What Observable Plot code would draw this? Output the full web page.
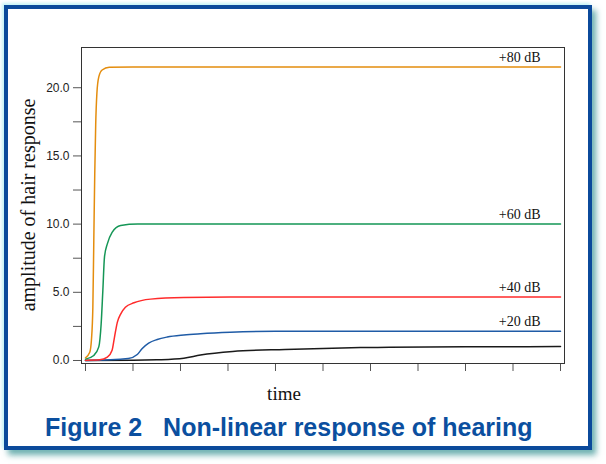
<!DOCTYPE html>
<html>
<head>
<meta charset="utf-8">
<script src="https://cdn.jsdelivr.net/npm/d3@7"></script>
<script src="https://cdn.jsdelivr.net/npm/@observablehq/plot@0.6"></script>
<style>
  html, body { margin: 0; padding: 0; background: #fff; }
  body { width: 606px; height: 464px; position: relative; overflow: hidden; }
  #frame {
    position: absolute; left: 4px; top: 5px; width: 588px; height: 445px;
    box-sizing: border-box; border: 4px solid #0b4a9b; background: #fff;
    box-shadow: -2px -2px 3px #c4f3f6, 4px 5px 6px rgba(60,150,150,0.75);
  }
  #chart { position: absolute; left: 0; top: 0; }
  .serif { font-family: "Liberation Serif", "Times New Roman", serif; color: #111; position: absolute; white-space: nowrap; line-height: 1; }
  #ylab { font-size: 20px; left: 28px; top: 205px; transform: translate(-50%, -50%) rotate(-90deg); }
  #xlab { font-size: 19px; left: 284px; top: 384px; transform: translateX(-50%); }
  #title {
    position: absolute; left: 45px; top: 415px; white-space: pre; line-height: 1;
    font-family: "Liberation Sans", Arial, Helvetica, sans-serif; font-weight: bold;
    font-size: 25px; color: #0b4f9f;
  }
</style>
</head>
<body>
<div id="frame"></div>
<div id="chart"></div>
<div id="ylab" class="serif">amplitude of hair response</div>
<div id="xlab" class="serif">time</div>
<div id="title">Figure 2   Non-linear response of hearing</div>
<script>
// Series (time in tick units 0..10, amplitude)
const t80 = [0, 0.09, 0.125, 0.155, 0.175, 0.195, 0.215, 0.24, 0.28, 0.35, 0.5, 1.0, 10];
const v80 = [0.2, 0.6, 1.5, 3.9, 8.8, 13.7, 17.3, 19.6, 20.8, 21.3, 21.5, 21.52, 21.52];

const t60 = [0, 0.175, 0.28, 0.33, 0.365, 0.4, 0.46, 0.56, 0.74, 1.1, 10];
const v60 = [0.1, 0.37, 1.0, 2.7, 5.1, 7.6, 8.55, 9.4, 9.9, 10.0, 10.0];

const t40 = [0, 0.3, 0.46, 0.56, 0.61, 0.67, 0.74, 0.84, 1.02, 1.37, 2.07, 3.05, 10];
const v40 = [0.02, 0.05, 0.24, 0.75, 1.7, 2.8, 3.4, 3.9, 4.23, 4.5, 4.62, 4.65, 4.65];

const t20 = [0, 0.9, 1.09, 1.19, 1.33, 1.51, 1.72, 2.07, 2.42, 3.05, 4.0, 5.0, 10];
const v20 = [0, 0.15, 0.44, 0.86, 1.27, 1.54, 1.72, 1.87, 1.96, 2.07, 2.14, 2.15, 2.15];

const t0 = [0, 1.0, 1.5, 2.07, 2.42, 3.1, 4.2, 5.6, 6.4, 8.0, 9.3, 10];
const v0 = [0, 0.01, 0.05, 0.17, 0.4, 0.66, 0.81, 0.93, 0.98, 1.0, 1.01, 1.03];

const seriesColors = ["#1a1a1a", "#1f5ba6", "#ff2b2b", "#159656", "#e48d0e"];

const labels = ["+80 dB", "+60 dB", "+40 dB", "+20 dB"];
const labelValues = [21.52, 10.0, 4.65, 2.15];
const labelTime = 8.7;

const yMajorTicks = [0, 5, 10, 15, 20];
const yMajorLabels = ["0.0", "5.0", "10.0", "15.0", "20.0"];
const yMinorTicks = [2.5, 7.5, 12.5, 17.5];
const xTicks = [0, 1, 2, 3, 4, 5, 6, 7, 8, 9, 10];

const rows = (ts, vs, s) => ts.map((t, i) => ({t, v: vs[i], s}));
const series = [
  rows(t0, v0, 0), rows(t20, v20, 1), rows(t40, v40, 2), rows(t60, v60, 3), rows(t80, v80, 4)
];
const yLabelMap = new Map(yMajorTicks.map((d, i) => [d, yMajorLabels[i]]));
const labelRows = labels.map((l, i) => ({l, v: labelValues[i], t: labelTime}));

const chart = Plot.plot({
  width: 606,
  height: 415,
  marginLeft: 81,
  marginRight: 42,
  marginTop: 47,
  marginBottom: 52,
  x: {domain: [-0.084, 10.084]},
  y: {domain: [-0.22, 22.95]},
  style: {background: "transparent", fontFamily: "'Liberation Sans', Arial, Helvetica, sans-serif", fontSize: "12px", color: "#222"},
  marks: [
    Plot.axisY({ticks: yMajorTicks, tickFormat: d => yLabelMap.get(d), tickSize: 8, tickPadding: 4, label: null, stroke: "#555"}),
    Plot.axisY({ticks: yMinorTicks, tickFormat: () => "", tickSize: 8, label: null, stroke: "#555"}),
    Plot.axisX({ticks: xTicks, tickFormat: () => "", tickSize: 8, label: null, stroke: "#555"}),
    ...series.map((d, i) => Plot.line(d, {x: "t", y: "v", stroke: seriesColors[i], strokeWidth: 1.5, curve: "monotone-x"})),
    Plot.frame({stroke: "#333"}),
    Plot.text(labelRows, {x: "t", y: "v", text: "l", textAnchor: "start", lineAnchor: "bottom", dy: -5,
      fontFamily: "'Liberation Serif', 'Times New Roman', serif", fontSize: 14, fill: "#111"})
  ]
});
document.getElementById("chart").appendChild(chart);
</script>
</body>
</html>
